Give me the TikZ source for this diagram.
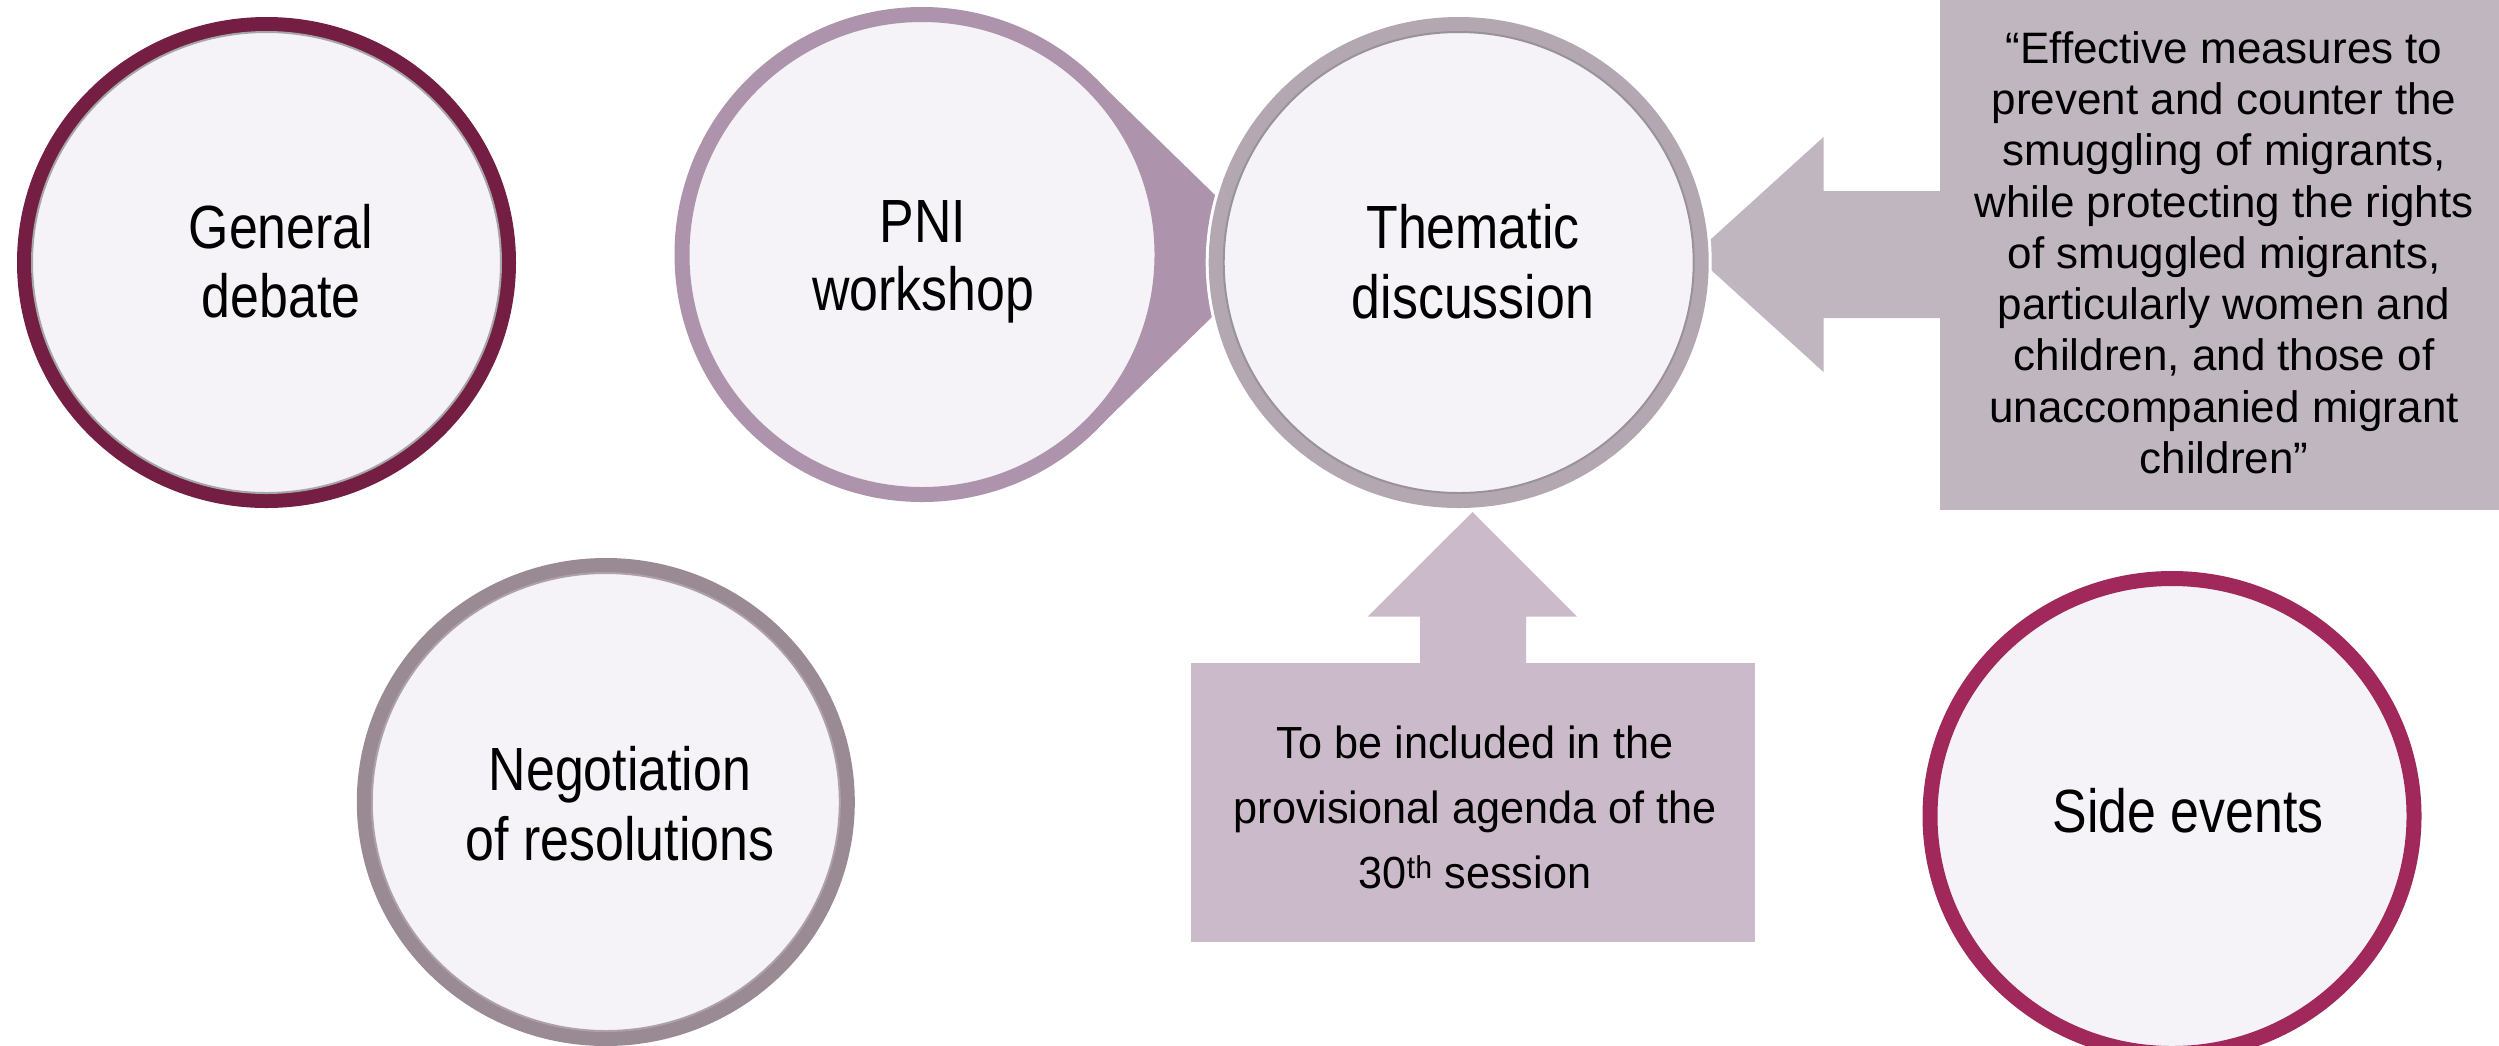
\documentclass[tikz,border=0pt]{standalone}
\usepackage{fontspec}
\setmainfont{Liberation Sans}
\newfontfamily\circfont[FakeStretch=0.85]{Liberation Sans}
\newfontfamily\boxfont[FakeStretch=0.96]{Liberation Sans}
\usetikzlibrary{shapes.geometric}
\definecolor{fillc}{HTML}{F5F3F7}
\definecolor{gdc}{HTML}{731E42}
\definecolor{pnic}{HTML}{AD93AB}
\definecolor{thc}{HTML}{B3A8B2}
\definecolor{quotec}{HTML}{C0B6BF}
\definecolor{upc}{HTML}{CBBBCA}
\definecolor{negc}{HTML}{9A8A94}
\definecolor{sidec}{HTML}{A0285A}
\begin{document}
\begin{tikzpicture}[x=1pt,y=-1pt,
  ring/.style={ellipse, fill=fillc, line width=15pt, inner sep=0pt, outer sep=0pt},
  circlbl/.style={anchor=base, inner sep=0pt, font=\circfont\fontsize{61}{69}\selectfont},
  quotelbl/.style={anchor=base, inner sep=0pt, font=\fontsize{44}{51}\selectfont},
  boxlbl/.style={anchor=base, inner sep=0pt, font=\boxfont\fontsize{45}{65}\selectfont},
  panel/.style={anchor=north west, inner sep=0pt, outer sep=0pt},
  innerline/.style={line width=2pt}
  ]
\useasboundingbox[fill=white] (0,0) rectangle (2499,1045);

% General debate
\node[ring, draw=gdc, minimum width=484pt, minimum height=476pt] (gd) at (266.5,262.5) {};
\draw[innerline, color=gray!70] (gd.center) ellipse [x radius=234.5, y radius=230.5];

% PNI workshop with callout wedge
\fill[pnic] (922,254.5) -- (1094.3,77.5) -- (1215,195) -- (1213,316) -- (1094.3,431.5) -- cycle;
\node[ring, draw=pnic, minimum width=480pt, minimum height=480pt] (pni) at (922,254.5) {};

% quote panel and its arrow
\node[panel, fill=quotec, minimum width=559pt, minimum height=510pt] (quote) at (1940,0) {};
\fill[quotec] (quote.west |- 0,191) -- (1823.5,191) -- (1823.5,137) -- (1710,240)
   -- (1710,269) -- (1823.5,372) -- (1823.5,318) -- (quote.west |- 0,318) -- cycle;

% bottom box and its up arrow
\node[panel, fill=upc, minimum width=564.4pt, minimum height=279pt] (agenda) at (1190.6,663) {};
\fill[upc] (1420,663) -- (1420,616.7) -- (1367.6,616.7) -- (1472.5,512) -- (1577,616.7)
   -- (1526,616.7) -- (1526,663) -- cycle;

% Thematic discussion (on top, white halo)
\node[ring, draw=thc, minimum width=485pt, minimum height=476pt,
      preaction={draw=white, line width=21pt}] (th) at (1458.7,262.5) {};
\draw[innerline, color=thc!80!black!90] (th.center) ellipse [x radius=235, y radius=230.5];

% Negotiation of resolutions
\node[ring, draw=negc, minimum width=483pt, minimum height=473pt] (neg) at (605.8,802) {};
\draw[innerline, color=negc!80!white] (neg.center) ellipse [x radius=234, y radius=229];

% Side events
\node[ring, draw=sidec, minimum width=484pt, minimum height=475pt] (side) at (2172,816) {};

% circle labels
\node[circlbl] (gdt1) at (281,248) {General};
\node[circlbl] (gdt2) at (281,317) {debate};
\node[circlbl] (pnit1) at (923,242) {PNI};
\node[circlbl] (pnit2) at (923,310) {workshop};
\node[circlbl] (tht1) at (1473,248) {Thematic};
\node[circlbl] (tht2) at (1473,318) {discussion};
\node[circlbl] (negt1) at (620,790) {Negotiation};
\node[circlbl] (negt2) at (620,860) {of resolutions};
\node[circlbl] (sidet) at (2188,832) {Side events};

% quote text
\node[quotelbl] (q1) at (2224,63.3) {“Effective measures to};
\node[quotelbl] (q2) at (2224,114.5) {prevent and counter the};
\node[quotelbl] (q3) at (2224,165.8) {smuggling of migrants,};
\node[quotelbl] (q4) at (2224,217) {while protecting the rights};
\node[quotelbl] (q5) at (2224,268.3) {of smuggled migrants,};
\node[quotelbl] (q6) at (2224,319.5) {particularly women and};
\node[quotelbl] (q7) at (2224,370.8) {children, and those of};
\node[quotelbl] (q8) at (2224,422) {unaccompanied migrant};
\node[quotelbl] (q9) at (2224,473.3) {children”};

% agenda text
\node[boxlbl] (a1) at (1475,758) {To be included in the};
\node[boxlbl] (a2) at (1475,823) {provisional agenda of the};
\node[boxlbl] (a3) at (1475,888) {30\textsuperscript{th} session};
\end{tikzpicture}
\end{document}
